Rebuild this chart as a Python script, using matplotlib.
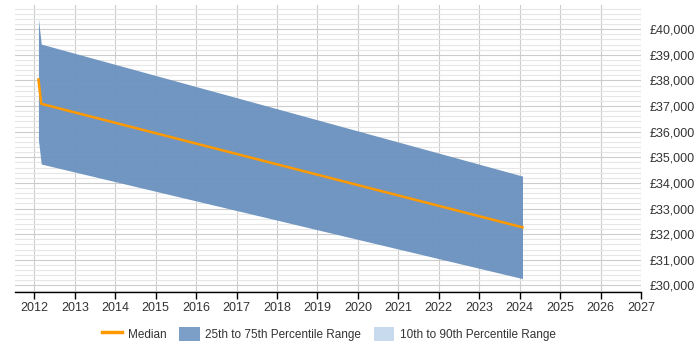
import matplotlib
matplotlib.use('Agg')
from matplotlib import pyplot as plt
from matplotlib.patches import Patch
from matplotlib.lines import Line2D
from matplotlib.ticker import FuncFormatter, MultipleLocator

# data
years = [2012.10, 2012.17, 2024.07]
median = [38040, 37090, 32270]
p25 = [35680, 34740, 30270]
p75 = [40410, 39420, 34270]

xticks = list(range(2012, 2028))

plt.rcParams['font.family'] = ['Liberation Sans', 'DejaVu Sans']

fig = plt.figure(figsize=(7, 3.5), dpi=100)
ax = fig.add_axes([0.0214, 0.166, 0.8943, 0.82])

# percentile band and median
ax.fill_between(years, p25, p75, color='#6c93bf', alpha=0.97, linewidth=0, zorder=2)
ax.plot(years, median, color='#ff9900', linewidth=1.8, zorder=3)

ax.set_xlim(2011.52, 2027)
ax.set_ylim(29750, 40950)

ax.set_xticks(xticks)
ax.set_xticklabels([str(y) for y in xticks])
ax.yaxis.set_major_locator(MultipleLocator(1000))
ax.yaxis.set_minor_locator(MultipleLocator(200))
ax.yaxis.set_major_formatter(FuncFormatter(lambda v, p: '£{:,.0f}'.format(v)))
ax.yaxis.tick_right()

ax.grid(axis='x', which='major', color='#cccccc', linewidth=0.8, zorder=0)
ax.grid(axis='y', which='major', color='#cccccc', linewidth=0.8, zorder=0)
ax.grid(axis='y', which='minor', color='#e6e6e6', linewidth=0.8, zorder=0)
ax.set_axisbelow(True)

for s in ['top', 'left', 'right']:
    ax.spines[s].set_visible(False)
ax.spines['bottom'].set_color('black')
ax.spines['bottom'].set_linewidth(1.0)

ax.tick_params(axis='x', length=5, width=1, color='black', labelsize=9, pad=2)
ax.tick_params(axis='y', which='both', length=0, labelsize=9, pad=6)
ax.tick_params(axis='y', labelcolor='#333333')
ax.tick_params(axis='x', labelcolor='#333333')

# legend
handles = [
    Line2D([0], [0], color='#ff9900', linewidth=2.5),
    Patch(facecolor='#7c9fc7', edgecolor='none'),
    Patch(facecolor='#c8daee', edgecolor='none'),
]
labels = ['Median', '25th to 75th Percentile Range', '10th to 90th Percentile Range']
fig.legend(handles, labels, loc='center', bbox_to_anchor=(0.47, 0.046), ncol=3,
           frameon=False, fontsize=8.5, handlelength=1.7, handleheight=1.4,
           columnspacing=1.1, handletextpad=0.5, labelcolor='#333333')

plt.savefig('out.png', dpi=100)
